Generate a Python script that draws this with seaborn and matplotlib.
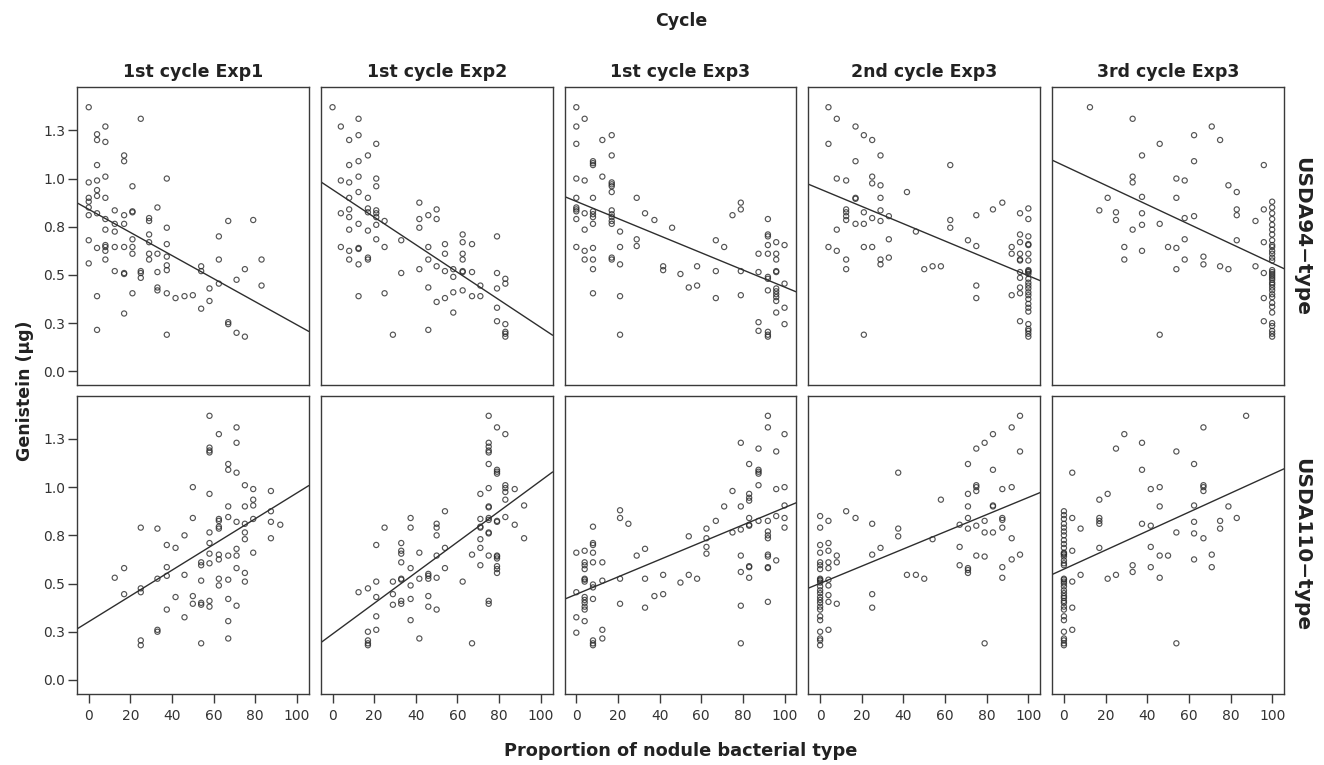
import numpy as np
import pandas as pd
import matplotlib
matplotlib.use("Agg")
import matplotlib.pyplot as plt
import seaborn as sns

# %%
# column / row facets
cycles = ["1st cycle Exp1", "1st cycle Exp2", "1st cycle Exp3",
          "2nd cycle Exp3", "3rd cycle Exp3"]
types = ["USDA94\u2212type", "USDA110\u2212type"]

x_ticks = [0, 20, 40, 60, 80, 100]
y_ticks = [0.0, 0.25, 0.5, 0.75, 1.0, 1.25]
y_ticklabels = ["0.0", "0.3", "0.5", "0.8", "1.0", "1.3"]

# %%
# (proportion %, genistein ug), USDA94-type row
usda94_c1_exp1 = [
    (0, 1.37), (25, 1.31), (8, 1.27), (4, 1.23), (4, 1.20), (8, 1.19), (17, 1.12), (17, 1.09), (4, 1.07), (8, 1.01),
    (0, 0.98), (4, 0.99), (21, 0.96), (37.5, 1.00), (4, 0.94), (4, 0.91), (0, 0.90), (0, 0.88), (8, 0.90), (0, 0.85),
    (0, 0.81), (4, 0.82), (12.5, 0.835), (17, 0.81), (21, 0.83), (21, 0.825), (33, 0.85), (29, 0.795), (29, 0.78), (8, 0.79),
    (12.5, 0.765), (17, 0.765), (8, 0.735), (12.5, 0.725), (37.5, 0.745), (67, 0.78), (79, 0.785), (62.5, 0.70), (0, 0.68), (21, 0.685),
    (29, 0.71), (4, 0.64), (8, 0.655), (8, 0.645), (8, 0.625), (12.5, 0.645), (17, 0.645), (21, 0.645), (21, 0.61), (29, 0.67),
    (37.5, 0.66), (29, 0.61), (29, 0.58), (33, 0.61), (37.5, 0.595), (8, 0.58), (0, 0.56), (37.5, 0.55), (37.5, 0.525), (54, 0.545),
    (54, 0.52), (62.5, 0.58), (75, 0.53), (83, 0.58), (12.5, 0.52), (17, 0.51), (17, 0.505), (25, 0.52), (25, 0.51), (25, 0.485),
    (33, 0.515), (71, 0.475), (62.5, 0.455), (83, 0.445), (58, 0.43), (33, 0.435), (33, 0.42), (37.5, 0.405), (41.7, 0.38), (46, 0.39),
    (50, 0.395), (21, 0.405), (4, 0.39), (54, 0.325), (58, 0.365), (17, 0.30), (67, 0.255), (67, 0.245), (71, 0.20), (75, 0.18),
    (4, 0.215), (37.5, 0.19),
]
usda94_c1_exp2 = [
    (0, 1.37), (12.5, 1.31), (4, 1.27), (12.5, 1.225), (8, 1.20), (21, 1.18), (17, 1.12), (8, 1.07), (12.5, 1.09), (12.5, 1.01),
    (4, 0.99), (8, 0.98), (21, 1.00), (21, 0.96), (12.5, 0.93), (8, 0.90), (17, 0.90), (41.7, 0.875), (8, 0.84), (8, 0.80),
    (4, 0.82), (17, 0.845), (17, 0.825), (21, 0.835), (21, 0.82), (21, 0.80), (25, 0.78), (50, 0.84), (50, 0.79), (46, 0.81),
    (41.7, 0.79), (41.7, 0.745), (12.5, 0.765), (21, 0.76), (8, 0.735), (17, 0.73), (62.5, 0.71), (62.5, 0.67), (67, 0.66), (79, 0.70),
    (21, 0.685), (33, 0.68), (54, 0.66), (54, 0.61), (4, 0.645), (25, 0.645), (46, 0.645), (8, 0.625), (8, 0.58), (12.5, 0.64),
    (12.5, 0.635), (17, 0.59), (17, 0.58), (62.5, 0.61), (62.5, 0.58), (12.5, 0.555), (46, 0.58), (50, 0.545), (54, 0.52), (58, 0.53),
    (58, 0.49), (62.5, 0.52), (62.5, 0.515), (67, 0.515), (41.7, 0.53), (33, 0.51), (79, 0.51), (83, 0.48), (83, 0.455), (71, 0.445),
    (79, 0.43), (46, 0.435), (25, 0.405), (12.5, 0.39), (58, 0.41), (62.5, 0.42), (67, 0.39), (71, 0.39), (54, 0.38), (50, 0.36),
    (58, 0.305), (79, 0.33), (79, 0.26), (83, 0.245), (83, 0.205), (83, 0.195), (83, 0.18), (46, 0.215), (29, 0.19),
]
usda94_c1_exp3 = [
    (0, 1.37), (0, 1.27), (0, 1.18), (4, 1.31), (12.5, 1.20), (17, 1.225), (17, 1.12), (8, 1.09), (8, 1.08), (8, 1.07),
    (12.5, 1.01), (0, 1.00), (4, 0.99), (17, 0.98), (17, 0.97), (17, 0.96), (17, 0.93), (0, 0.90), (8, 0.90), (29, 0.90),
    (0, 0.85), (0, 0.84), (0, 0.83), (4, 0.82), (8, 0.83), (8, 0.815), (8, 0.80), (8, 0.765), (17, 0.835), (17, 0.815),
    (17, 0.80), (17, 0.78), (17, 0.765), (33, 0.82), (37.5, 0.785), (0, 0.79), (46, 0.745), (4, 0.735), (21, 0.725), (79, 0.875),
    (79, 0.84), (75, 0.81), (92, 0.79), (92, 0.71), (92, 0.70), (29, 0.685), (29, 0.65), (67, 0.68), (71, 0.645), (0, 0.645),
    (4, 0.625), (8, 0.64), (21, 0.645), (17, 0.59), (17, 0.58), (4, 0.58), (8, 0.58), (8, 0.53), (21, 0.555), (92, 0.655),
    (96, 0.67), (100, 0.655), (87.5, 0.61), (92, 0.61), (96, 0.61), (96, 0.58), (96, 0.52), (96, 0.515), (41.7, 0.545), (41.7, 0.525),
    (50, 0.505), (58, 0.545), (67, 0.52), (79, 0.52), (87.5, 0.515), (92, 0.49), (92, 0.48), (100, 0.455), (54, 0.435), (58, 0.445),
    (92, 0.42), (96, 0.43), (96, 0.415), (96, 0.40), (96, 0.385), (96, 0.365), (8, 0.405), (21, 0.39), (67, 0.38), (79, 0.395),
    (100, 0.33), (96, 0.305), (100, 0.245), (87.5, 0.255), (87.5, 0.21), (92, 0.205), (92, 0.19), (92, 0.18), (21, 0.19),
]
usda94_c2_exp3 = [
    (4, 1.37), (8, 1.31), (17, 1.27), (21, 1.225), (25, 1.20), (4, 1.18), (29, 1.12), (17, 1.09), (62.5, 1.07), (8, 1.00),
    (12.5, 0.99), (25, 1.01), (25, 0.975), (29, 0.965), (41.7, 0.93), (17, 0.90), (17, 0.895), (29, 0.90), (87.5, 0.875), (83, 0.84),
    (100, 0.845), (96, 0.82), (100, 0.79), (75, 0.81), (12.5, 0.84), (12.5, 0.825), (12.5, 0.805), (12.5, 0.785), (21, 0.825), (29, 0.835),
    (33, 0.805), (25, 0.795), (29, 0.78), (17, 0.765), (21, 0.765), (62.5, 0.785), (62.5, 0.745), (8, 0.735), (46, 0.725), (33, 0.685),
    (71, 0.68), (75, 0.65), (96, 0.71), (96, 0.67), (100, 0.70), (100, 0.66), (100, 0.655), (92, 0.645), (92, 0.61), (96, 0.61),
    (96, 0.58), (96, 0.575), (100, 0.61), (100, 0.575), (4, 0.645), (8, 0.625), (21, 0.645), (25, 0.645), (12.5, 0.58), (12.5, 0.53),
    (29, 0.58), (29, 0.555), (33, 0.59), (50, 0.53), (54, 0.545), (58, 0.545), (96, 0.515), (96, 0.485), (100, 0.525), (100, 0.52),
    (100, 0.515), (100, 0.505), (100, 0.48), (100, 0.46), (100, 0.445), (100, 0.43), (100, 0.41), (100, 0.395), (100, 0.375), (96, 0.435),
    (96, 0.405), (92, 0.395), (75, 0.445), (75, 0.38), (100, 0.35), (100, 0.33), (100, 0.31), (96, 0.26), (100, 0.245), (100, 0.22),
    (100, 0.21), (100, 0.195), (100, 0.18), (21, 0.19),
]
usda94_c3_exp3 = [
    (12.5, 1.37), (33, 1.31), (71, 1.27), (62.5, 1.225), (75, 1.20), (46, 1.18), (37.5, 1.12), (96, 1.07), (62.5, 1.09), (33, 1.01),
    (33, 0.98), (54, 1.00), (58, 0.99), (79, 0.965), (83, 0.93), (21, 0.90), (37.5, 0.905), (54, 0.90), (17, 0.835), (25, 0.825),
    (25, 0.785), (37.5, 0.82), (62.5, 0.805), (58, 0.795), (83, 0.84), (83, 0.81), (92, 0.78), (96, 0.84), (46, 0.765), (37.5, 0.76),
    (33, 0.735), (58, 0.685), (83, 0.68), (96, 0.67), (29, 0.645), (29, 0.58), (37.5, 0.625), (50, 0.645), (54, 0.64), (58, 0.58),
    (67, 0.595), (67, 0.555), (75, 0.545), (79, 0.53), (54, 0.53), (92, 0.545), (96, 0.51), (96, 0.38), (96, 0.26), (46, 0.19),
    (100, 0.88), (100, 0.85), (100, 0.82), (100, 0.79), (100, 0.76), (100, 0.735), (100, 0.71), (100, 0.68), (100, 0.655), (100, 0.645),
    (100, 0.625), (100, 0.61), (100, 0.59), (100, 0.575), (100, 0.525), (100, 0.515), (100, 0.505), (100, 0.495), (100, 0.485), (100, 0.475),
    (100, 0.46), (100, 0.45), (100, 0.435), (100, 0.42), (100, 0.40), (100, 0.385), (100, 0.355), (100, 0.335), (100, 0.305), (100, 0.25),
    (100, 0.235), (100, 0.21), (100, 0.195), (100, 0.18),
]

# USDA110-type row
usda110_c1_exp1 = [
    (58, 1.37), (71, 1.31), (62.5, 1.275), (71, 1.23), (58, 1.205), (58, 1.19), (58, 1.18), (67, 1.12), (67, 1.09), (71, 1.075),
    (50, 1.00), (75, 1.01), (79, 0.99), (87.5, 0.98), (58, 0.965), (79, 0.935), (79, 0.905), (67, 0.90), (75, 0.90), (87.5, 0.875),
    (50, 0.84), (67, 0.845), (62.5, 0.835), (62.5, 0.825), (62.5, 0.795), (62.5, 0.785), (71, 0.82), (79, 0.835), (87.5, 0.82), (92, 0.805),
    (75, 0.81), (25, 0.79), (33, 0.785), (75, 0.765), (75, 0.73), (87.5, 0.735), (46, 0.75), (58, 0.765), (37.5, 0.70), (41.7, 0.685),
    (71, 0.68), (58, 0.71), (58, 0.655), (79, 0.66), (62.5, 0.65), (62.5, 0.625), (67, 0.645), (71, 0.645), (54, 0.61), (58, 0.605),
    (54, 0.595), (17, 0.58), (37.5, 0.585), (71, 0.58), (75, 0.555), (12.5, 0.53), (33, 0.525), (37.5, 0.54), (46, 0.545), (62.5, 0.525),
    (67, 0.52), (75, 0.51), (54, 0.515), (25, 0.475), (25, 0.455), (17, 0.445), (62.5, 0.49), (41.7, 0.43), (50, 0.435), (50, 0.395),
    (54, 0.40), (54, 0.39), (58, 0.41), (58, 0.38), (67, 0.42), (71, 0.385), (37.5, 0.365), (46, 0.325), (67, 0.305), (33, 0.26),
    (33, 0.25), (25, 0.205), (25, 0.18), (67, 0.215), (54, 0.19),
]
usda110_c1_exp2 = [
    (75, 1.37), (79, 1.31), (83, 1.275), (75, 1.23), (75, 1.21), (75, 1.19), (75, 1.18), (75, 1.12), (79, 1.09), (79, 1.08),
    (79, 1.07), (75, 0.995), (83, 1.01), (83, 0.995), (83, 0.975), (87.5, 0.99), (71, 0.965), (83, 0.935), (92, 0.905), (75, 0.90),
    (75, 0.895), (54, 0.875), (83, 0.845), (37.5, 0.84), (37.5, 0.79), (71, 0.835), (71, 0.795), (71, 0.79), (75, 0.84), (75, 0.83),
    (75, 0.765), (75, 0.76), (79, 0.825), (79, 0.82), (87.5, 0.805), (50, 0.81), (50, 0.79), (50, 0.75), (25, 0.79), (92, 0.735),
    (71, 0.73), (71, 0.685), (21, 0.70), (33, 0.71), (33, 0.67), (33, 0.655), (33, 0.61), (41.7, 0.66), (67, 0.65), (75, 0.645),
    (79, 0.645), (79, 0.64), (79, 0.63), (79, 0.59), (79, 0.575), (79, 0.555), (54, 0.685), (50, 0.645), (71, 0.595), (54, 0.58),
    (37.5, 0.58), (46, 0.55), (46, 0.54), (46, 0.525), (41.7, 0.525), (50, 0.53), (33, 0.525), (33, 0.52), (29, 0.51), (21, 0.51),
    (62.5, 0.51), (12.5, 0.455), (17, 0.475), (37.5, 0.49), (29, 0.445), (21, 0.43), (37.5, 0.42), (46, 0.435), (33, 0.41), (33, 0.395),
    (29, 0.39), (46, 0.38), (50, 0.365), (75, 0.41), (75, 0.395), (21, 0.33), (37.5, 0.31), (21, 0.26), (17, 0.25), (17, 0.205),
    (17, 0.19), (17, 0.18), (41.7, 0.215), (67, 0.19),
]
usda110_c1_exp3 = [
    (92, 1.37), (92, 1.31), (100, 1.275), (79, 1.23), (96, 1.185), (87.5, 1.20), (83, 1.12), (87.5, 1.09), (87.5, 1.08), (87.5, 1.07),
    (87.5, 1.01), (75, 0.98), (96, 0.99), (100, 1.00), (83, 0.965), (83, 0.945), (83, 0.93), (71, 0.90), (79, 0.90), (100, 0.905),
    (21, 0.88), (21, 0.84), (96, 0.85), (83, 0.84), (83, 0.805), (83, 0.80), (100, 0.84), (100, 0.79), (87.5, 0.825), (92, 0.825),
    (67, 0.825), (25, 0.81), (79, 0.78), (75, 0.765), (62.5, 0.785), (62.5, 0.735), (62.5, 0.69), (62.5, 0.655), (92, 0.77), (92, 0.75),
    (92, 0.735), (54, 0.745), (8, 0.795), (8, 0.71), (8, 0.70), (8, 0.66), (8, 0.61), (8, 0.495), (8, 0.48), (8, 0.42),
    (0, 0.66), (4, 0.67), (4, 0.61), (4, 0.595), (4, 0.575), (4, 0.525), (4, 0.52), (4, 0.51), (33, 0.68), (29, 0.645),
    (12.5, 0.61), (79, 0.645), (79, 0.56), (83, 0.59), (83, 0.585), (83, 0.53), (92, 0.65), (92, 0.64), (92, 0.585), (92, 0.58),
    (96, 0.62), (12.5, 0.515), (21, 0.525), (33, 0.525), (41.7, 0.545), (54, 0.545), (58, 0.525), (50, 0.505), (0, 0.455), (37.5, 0.435),
    (41.7, 0.445), (4, 0.43), (4, 0.415), (4, 0.40), (4, 0.38), (4, 0.365), (21, 0.395), (33, 0.375), (92, 0.405), (79, 0.385),
    (0, 0.325), (4, 0.305), (12.5, 0.26), (12.5, 0.215), (0, 0.245), (8, 0.205), (8, 0.19), (8, 0.18), (79, 0.19),
]
usda110_c2_exp3 = [
    (96, 1.37), (92, 1.31), (83, 1.275), (79, 1.23), (75, 1.20), (96, 1.185), (71, 1.12), (83, 1.09), (37.5, 1.075), (75, 1.01),
    (75, 1.00), (75, 0.98), (87.5, 0.99), (92, 1.00), (71, 0.965), (58, 0.935), (83, 0.905), (83, 0.90), (71, 0.90), (12.5, 0.875),
    (17, 0.84), (0, 0.85), (0, 0.79), (4, 0.825), (71, 0.84), (71, 0.785), (79, 0.825), (87.5, 0.84), (87.5, 0.83), (87.5, 0.79),
    (25, 0.81), (37.5, 0.785), (37.5, 0.745), (67, 0.805), (75, 0.80), (79, 0.765), (83, 0.765), (92, 0.735), (54, 0.73), (0, 0.70),
    (0, 0.66), (0, 0.61), (0, 0.595), (0, 0.575), (4, 0.71), (4, 0.67), (4, 0.61), (4, 0.58), (8, 0.645), (8, 0.61),
    (29, 0.685), (25, 0.65), (67, 0.69), (67, 0.595), (75, 0.645), (79, 0.64), (96, 0.65), (92, 0.625), (71, 0.58), (71, 0.57),
    (71, 0.555), (87.5, 0.585), (87.5, 0.53), (41.7, 0.545), (46, 0.545), (50, 0.525),
    (0, 0.525), (0, 0.52), (0, 0.515), (0, 0.505), (0, 0.485), (0, 0.465), (0, 0.45), (0, 0.43), (0, 0.415), (0, 0.40),
    (0, 0.38), (0, 0.365), (0, 0.33), (0, 0.31), (0, 0.25), (0, 0.215), (0, 0.205), (0, 0.18),
    (4, 0.52), (4, 0.49), (4, 0.44), (4, 0.405), (8, 0.395), (25, 0.445), (25, 0.375), (4, 0.26), (79, 0.19),
]
usda110_c3_exp3 = [
    (87.5, 1.37), (67, 1.31), (29, 1.275), (37.5, 1.23), (25, 1.20), (54, 1.185), (62.5, 1.12), (37.5, 1.09), (4, 1.075), (67, 1.01),
    (67, 1.00), (67, 0.98), (41.7, 0.99), (46, 1.00), (21, 0.965), (17, 0.935), (46, 0.90), (62.5, 0.905), (79, 0.90), (4, 0.84),
    (17, 0.84), (17, 0.825), (17, 0.81), (83, 0.84), (75, 0.825), (75, 0.785), (62.5, 0.82), (62.5, 0.76), (37.5, 0.81), (41.7, 0.80),
    (8, 0.785), (54, 0.765), (67, 0.735), (17, 0.685), (41.7, 0.69), (4, 0.67), (46, 0.645), (50, 0.645), (71, 0.65), (71, 0.585),
    (62.5, 0.625), (33, 0.595), (33, 0.56), (41.7, 0.585), (8, 0.545), (25, 0.545), (21, 0.525), (46, 0.53), (4, 0.51), (4, 0.375),
    (4, 0.26), (54, 0.19),
    (0, 0.875), (0, 0.855), (0, 0.835), (0, 0.81), (0, 0.79), (0, 0.77), (0, 0.75), (0, 0.725), (0, 0.705), (0, 0.685),
    (0, 0.66), (0, 0.655), (0, 0.65), (0, 0.64), (0, 0.62), (0, 0.605), (0, 0.595), (0, 0.525), (0, 0.52), (0, 0.51),
    (0, 0.50), (0, 0.485), (0, 0.465), (0, 0.45), (0, 0.435), (0, 0.425), (0, 0.41), (0, 0.40), (0, 0.38), (0, 0.365),
    (0, 0.33), (0, 0.31), (0, 0.25), (0, 0.215), (0, 0.205), (0, 0.19), (0, 0.18),
]

panels = [
    [usda94_c1_exp1, usda94_c1_exp2, usda94_c1_exp3, usda94_c2_exp3, usda94_c3_exp3],
    [usda110_c1_exp1, usda110_c1_exp2, usda110_c1_exp3, usda110_c2_exp3, usda110_c3_exp3],
]

# %%
sns.set_style("white")
plt.rcParams["font.family"] = ["DejaVu Sans"]

line_col = "#2e2e2e"
text_col = "#222222"

fig, axes = plt.subplots(2, 5, figsize=(13.24, 7.65), dpi=100, sharex=True, sharey=True)
plt.subplots_adjust(left=0.0582, right=0.9698, bottom=0.0928, top=0.8863,
                    wspace=0.052, hspace=0.034)

for r in range(2):
    for c in range(5):
        ax = axes[r, c]
        df = pd.DataFrame(panels[r][c], columns=["proportion", "genistein"])
        ax.set_xlim(-5.6, 105.7)
        ax.set_ylim(-0.073, 1.475)
        sns.regplot(
            data=df,
            x="proportion",
            y="genistein",
            ax=ax,
            ci=None,
            truncate=False,
            color=line_col,
            scatter_kws=dict(s=14, facecolors="none", edgecolors="#2a2a2a", linewidths=0.85),
            line_kws=dict(color=line_col, linewidth=1.0),
        )
        ax.set_xlabel("")
        ax.set_ylabel("")
        ax.set_xticks(x_ticks)
        ax.set_yticks(y_ticks)
        ax.set_yticklabels(y_ticklabels)
        for sp in ax.spines.values():
            sp.set_visible(True)
            sp.set_color("#3a3a3a")
            sp.set_linewidth(1.0)
        ax.tick_params(direction="out", length=6.5, width=1.0, color="#3a3a3a",
                       labelsize=10, labelcolor="#333333", pad=2)
        ax.tick_params(axis="x", pad=4)
        ax.tick_params(axis="x", bottom=(r == 1), labelbottom=(r == 1))
        ax.tick_params(axis="y", left=(c == 0), labelleft=(c == 0))

        if r == 0:
            ax.set_title(cycles[c], fontsize=12.5, fontweight="bold", color=text_col, pad=7)
        if c == 4:
            ax.text(1.075, 0.5, types[r], transform=ax.transAxes, rotation=270,
                    ha="center", va="center", fontsize=14.5, fontweight="bold",
                    color=text_col)

fig.text(681 / 1324, 1 - 21 / 765, "Cycle", ha="center", va="center",
         fontsize=12.5, fontweight="bold", color=text_col)
fig.text(25 / 1324, 1 - 391 / 765, "Genistein (\u00b5g)", ha="center", va="center",
         rotation=90, fontsize=12.5, fontweight="bold", color=text_col)
fig.text(681 / 1324, 1 - 751 / 765, "Proportion of nodule bacterial type",
         ha="center", va="center", fontsize=12.8, fontweight="bold", color=text_col)

plt.savefig("out.png", dpi=100)
